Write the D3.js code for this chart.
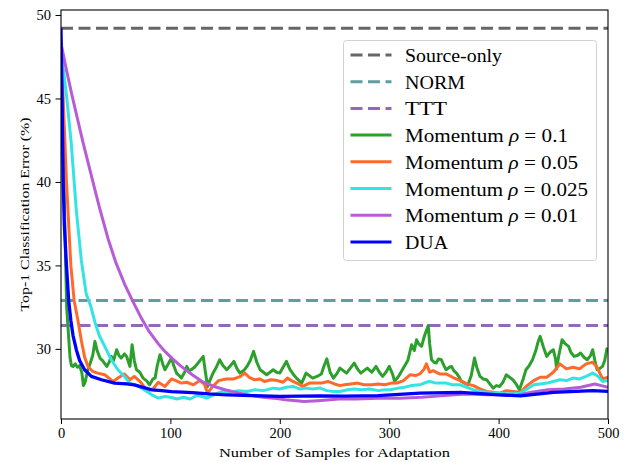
<!DOCTYPE html>
<html>
<head>
<meta charset="utf-8">
<script src="https://cdn.jsdelivr.net/npm/d3@7"></script>
<style>
  body { margin: 0; background: #fff; }
  svg text { font-family: "Liberation Serif", "Times New Roman", serif; fill: #000; }
</style>
</head>
<body>
<div id="chart"></div>
<script>
var svgWidth = 624;
var svgHeight = 462;

var margin = { top: 10, right: 16, bottom: 43, left: 61 };
var chartWidth = svgWidth - margin.left - margin.right;
var chartHeight = svgHeight - margin.top - margin.bottom;

// baselines (constant error)
var sourceOnly = 49.2;
var normErr = 32.9;
var tttErr = 31.4;

var xTicks = [0, 100, 200, 300, 400, 500];
var yTicks = [30, 35, 40, 45, 50];

// [number of samples, top-1 error]
var momentum01 = [[0,48],[1,45],[2.7,40],[4.3,35],[5.2,32.5],[6.7,31.0],[8.2,29.5],[9.5,29.0],[11,28.95],[13,29.1],[15,28.9],[17,29.0],[19,28.6],[20.5,27.8],[22,28.0],[24.6,28.75],[27,29.2],[29,29.6],[31,30.45],[33,29.9],[35.6,29.45],[38,29.3],[41.8,28.95],[44,29.2],[46,29.55],[48,29.3],[50.9,29.95],[53,29.6],[55,29.45],[58,29.7],[60,29.55],[63,28.95],[65,30.25],[67,29.3],[69,28.75],[72,28.6],[75,28.25],[78,28.1],[81,27.85],[84,28.2],[86,28.25],[88,29.0],[90.5,29.65],[93,29.1],[95,28.75],[98,29.1],[101,29.45],[103,29.0],[105.6,28.55],[108,28.4],[110,28.25],[113,28.6],[115,28.95],[117,28.7],[119,28.75],[122,28.9],[124,29.05],[127,29.3],[130,29.55],[132,28.6],[134,27.75],[136,28.1],[139,28.55],[142,28.9],[145,29.35],[148,29.0],[151.5,28.75],[155,29.0],[158,29.25],[161,28.8],[163.6,28.55],[167,28.7],[170,28.95],[173,29.3],[176,29.85],[179,29.2],[182,28.75],[185,28.6],[188,28.45],[191,28.6],[194,28.75],[197,28.6],[200,28.55],[203,28.9],[206,29.25],[209,28.8],[212.6,28.45],[216,28.2],[220,27.95],[224,28.55],[227,28.4],[230,28.25],[234,28.35],[238,28.5],[240,28.9],[243,29.4],[246,28.6],[249,28.25],[252,28.5],[255,28.85],[258,28.7],[261,28.55],[264,28.8],[268,29.15],[271,28.8],[274,28.55],[277,28.7],[280,28.85],[284,28.6],[288,28.95],[291,28.6],[294,28.35],[297,28.6],[300,28.95],[303,28.5],[305,28.05],[309,28.4],[313,28.85],[317,29.3],[320.5,30.25],[323,29.9],[325,30.55],[327,30.3],[329.6,30.15],[331,30.5],[332.6,30.85],[334,31.1],[335.7,31.4],[337,30.3],[338.7,29.35],[341,29.2],[343,29.15],[345,29.4],[347.6,29.35],[350,29.0],[352,28.75],[355,28.9],[357,28.95],[359,28.7],[361.5,28.55],[364,28.3],[366,28.05],[369,27.95],[372,27.85],[375,28.4],[378,29.45],[380,28.9],[383,28.35],[386,28.2],[389,28.15],[392,27.9],[395,27.65],[398,27.8],[401,27.75],[404,28.0],[407,28.45],[410,28.3],[413,28.15],[416,27.9],[419,27.55],[422,28.1],[425,28.75],[428,29.0],[431,29.35],[434,29.9],[436,30.4],[438,30.75],[441,30.1],[444,29.55],[447,29.8],[450,29.95],[452,29.4],[453,28.8],[455,29.6],[458,30.55],[461,30.3],[464,30.15],[466,29.8],[469,29.55],[472,29.6],[475,29.75],[478,29.5],[481,29.35],[484,29.6],[486,29.95],[488,29.3],[490,28.75],[492,28.8],[495,28.95],[497,29.3],[499,30.0],[500,29.9]];

var momentum005 = [[0,48.5],[2,45],[5,40],[9,35],[12,32.9],[15.5,31.7],[18.6,30.5],[21.6,29.5],[24.7,28.95],[29,28.65],[33.5,28.55],[40,28.45],[47.5,28.05],[52,28.25],[58,28.5],[63,28.15],[67,28.35],[73,28.0],[79,27.45],[84,27.6],[89,28.0],[95,27.75],[101,28.2],[105,28.1],[110,27.95],[115,28.0],[121,27.85],[127,28.1],[131,27.9],[134,27.35],[138,27.7],[144,28.1],[151,28.2],[158,28.2],[164,28.35],[168,28.55],[172,28.3],[177,28.15],[182,28.2],[186,28.05],[192,28.15],[198,28.1],[203,28.0],[207,28.25],[212,28.05],[217,27.9],[221,27.75],[227,27.95],[232,27.95],[238,27.95],[244,28.05],[250,27.9],[255,27.8],[259,27.85],[265,27.9],[271,27.95],[277,27.85],[284,27.85],[290,27.9],[296,27.85],[302,27.95],[307,27.95],[313,28.1],[319,28.45],[324,28.4],[328,28.5],[332,28.8],[334,29.1],[337,28.6],[340,28.7],[346,28.5],[352,28.5],[358,28.3],[365,28.1],[371,27.9],[377,27.8],[383,27.6],[389,27.45],[395,27.4],[401,27.35],[407,27.5],[413,27.45],[420,27.4],[426,27.8],[432,28.1],[438,28.3],[444,28.3],[450,28.6],[456,29.1],[462,28.8],[468,28.9],[474,28.8],[480,29.1],[486,29.2],[490,28.9],[495,28.2],[500,28.3]];

var momentum0025 = [[0,48.3],[2,46.8],[5,45.2],[9.4,42.3],[14,38.3],[18.6,35.3],[23,33.3],[27,32.6],[31,31.6],[35,30.8],[40,30.15],[46,29.35],[52,28.75],[58,28.35],[63,27.95],[70,27.8],[76,27.55],[83,27.25],[89,27.05],[95,27.15],[100,27.1],[106,27.0],[112,27.1],[118,27.0],[124,27.2],[129,27.15],[133,27.05],[138,27.2],[143,27.35],[148,27.45],[155,27.4],[162,27.5],[170,27.45],[177,27.55],[185,27.5],[194,27.65],[200,27.6],[206,27.7],[212,27.75],[218,27.6],[224,27.65],[230,27.6],[237,27.65],[243,27.5],[249,27.45],[255,27.45],[262,27.55],[268,27.6],[275,27.55],[282,27.6],[290,27.5],[296,27.55],[301,27.55],[308,27.65],[314,27.7],[320,27.8],[328,27.85],[334,28.0],[337,28.05],[343,27.95],[352,27.95],[358,27.85],[365,27.85],[371,27.7],[377,27.55],[383,27.45],[389,27.4],[395,27.35],[401,27.35],[410,27.3],[420,27.35],[426,27.6],[432,27.85],[438,27.9],[444,27.95],[450,28.05],[456,28.15],[462,28.1],[468,28.25],[474,28.2],[480,28.35],[486,28.55],[490,28.4],[495,28.05],[500,28.1]];

var momentum001 = [[0,48.3],[5,46.7],[10,45.2],[15,43.8],[20,42.4],[25,41.1],[30,39.8],[35,38.5],[43,36.6],[50,35.2],[58,33.9],[66,32.8],[73,31.9],[80,31.1],[89,30.3],[95,29.85],[102,29.4],[109,29.0],[120,28.45],[130,28.0],[140,27.75],[150,27.55],[163,27.35],[175,27.2],[185,27.1],[194,27.05],[205,26.95],[215,26.9],[222,26.85],[235,26.9],[254,27.0],[270,27.0],[290,27.05],[310,27.05],[330,27.1],[350,27.2],[370,27.3],[390,27.25],[400,27.25],[415,27.2],[430,27.4],[445,27.55],[460,27.6],[475,27.7],[488,27.9],[494,27.8],[500,27.7]];

var dua = [[0,49.2],[1,45],[2,40],[3,37.5],[5,35],[7,32.9],[9,31.7],[11,30.8],[14,29.95],[17,29.3],[21.6,28.75],[27.7,28.35],[37,28.15],[49,27.95],[60,27.9],[67,27.84],[75,27.7],[83,27.55],[92,27.5],[101,27.44],[120,27.38],[135,27.3],[152,27.25],[175,27.2],[200,27.15],[237,27.19],[260,27.17],[290,27.2],[328,27.35],[365,27.4],[401,27.25],[420,27.19],[450,27.4],[486,27.5],[500,27.45]];

var seriesNames = ["Source-only", "NORM", "TTT", "Momentum", "Momentum", "Momentum", "Momentum", "DUA"];
var rhoValues = [null, null, null, "0.1", "0.05", "0.025", "0.01", null];
var colors = ["#666666", "#5f9ea0", "#9467bd", "#2ca02c", "#ff6a2b", "#34e3e3", "#b85bd6", "#0000ff"];

// widths of the serif text in the original (its font is wider than ours)
var legendWidths = [97, 60, 42, 163, 173, 183, 173, 43];

var svg = d3.select("#chart")
  .append("svg")
  .attr("width", svgWidth)
  .attr("height", svgHeight);

svg.append("rect").attr("width", svgWidth).attr("height", svgHeight).attr("fill", "#fff");

var chartGroup = svg.append("g")
  .attr("transform", `translate(${margin.left}, ${margin.top})`);

var xScale = d3.scaleLinear().domain([0, 500]).range([0, chartWidth]);
var yScale = d3.scaleLinear().domain([25.8, 50.3]).range([chartHeight, 0]);

svg.append("clipPath").attr("id", "plotclip")
  .append("rect").attr("width", chartWidth).attr("height", chartHeight);

var plot = chartGroup.append("g").attr("clip-path", "url(#plotclip)");

// horizontal baselines
[sourceOnly, normErr, tttErr].forEach(function(v, i) {
  plot.append("line")
    .attr("x1", xScale(0)).attr("x2", xScale(500))
    .attr("y1", yScale(v)).attr("y2", yScale(v))
    .attr("stroke", colors[i])
    .attr("stroke-width", 3)
    .attr("stroke-dasharray", "12,5.5");
});

var line = d3.line()
  .x(d => xScale(d[0]))
  .y(d => yScale(d[1]));

[momentum01, momentum005, momentum0025, momentum001, dua].forEach(function(s, i) {
  plot.append("path")
    .datum(s)
    .attr("d", line)
    .attr("fill", "none")
    .attr("stroke", colors[i + 3])
    .attr("stroke-width", i == 4 ? 3.3 : 3)
    .attr("stroke-linejoin", "round");
});

// axes
var bottomAxis = d3.axisBottom(xScale).tickValues(xTicks).tickSize(5).tickPadding(4).tickSizeOuter(0);
var leftAxis = d3.axisLeft(yScale).tickValues(yTicks).tickSize(5.5).tickPadding(4.5).tickSizeOuter(0);

var xAxis = chartGroup.append("g")
  .attr("transform", `translate(0, ${chartHeight})`)
  .call(bottomAxis);
var yAxis = chartGroup.append("g").call(leftAxis);

[xAxis, yAxis].forEach(function(a) {
  a.select(".domain").remove();
  a.selectAll("line").attr("stroke", "#000").attr("stroke-width", 1);
  a.selectAll("text")
    .attr("font-family", "Liberation Serif")
    .attr("font-size", 14.5)
    .attr("fill", "#000");
});

// frame
chartGroup.append("rect")
  .attr("width", chartWidth).attr("height", chartHeight)
  .attr("fill", "none").attr("stroke", "#000").attr("stroke-width", 1.1);

// axis labels
chartGroup.append("text")
  .attr("x", chartWidth / 2)
  .attr("y", chartHeight + 38)
  .attr("text-anchor", "middle")
  .attr("font-size", 13.5)
  .attr("textLength", 231)
  .attr("lengthAdjust", "spacingAndGlyphs")
  .text("Number of Samples for Adaptation");

chartGroup.append("text")
  .attr("transform", "rotate(-90)")
  .attr("x", -chartHeight / 2)
  .attr("y", -margin.left + 28.5)
  .attr("text-anchor", "middle")
  .attr("font-size", 13.5)
  .attr("textLength", 194)
  .attr("lengthAdjust", "spacingAndGlyphs")
  .text("Top-1 Classification Error (%)");

// legend
var legend = svg.append("g").attr("transform", "translate(343.5, 40.5)");
legend.append("rect")
  .attr("width", 253).attr("height", 220)
  .attr("rx", 3).attr("ry", 3)
  .attr("fill", "#fff").attr("fill-opacity", 0.8)
  .attr("stroke", "#d0d0d0").attr("stroke-width", 1);

seriesNames.forEach(function(name, i) {
  var y = 14.5 + i * 26.7;
  legend.append("line")
    .attr("x1", 7).attr("x2", 48)
    .attr("y1", y).attr("y2", y)
    .attr("stroke", colors[i])
    .attr("stroke-width", 3)
    .attr("stroke-dasharray", i < 3 ? "12,5.5" : null);
  var t = legend.append("text")
    .attr("x", 61.5)
    .attr("y", y + 7)
    .attr("font-size", 18)
    .attr("textLength", legendWidths[i])
    .attr("lengthAdjust", "spacingAndGlyphs");
  t.append("tspan").text(name);
  if (rhoValues[i]) {
    t.append("tspan").text(" ");
    t.append("tspan").attr("font-style", "italic").text("ρ");
    t.append("tspan").text(" = " + rhoValues[i]);
  }
});
</script>
</body>
</html>
